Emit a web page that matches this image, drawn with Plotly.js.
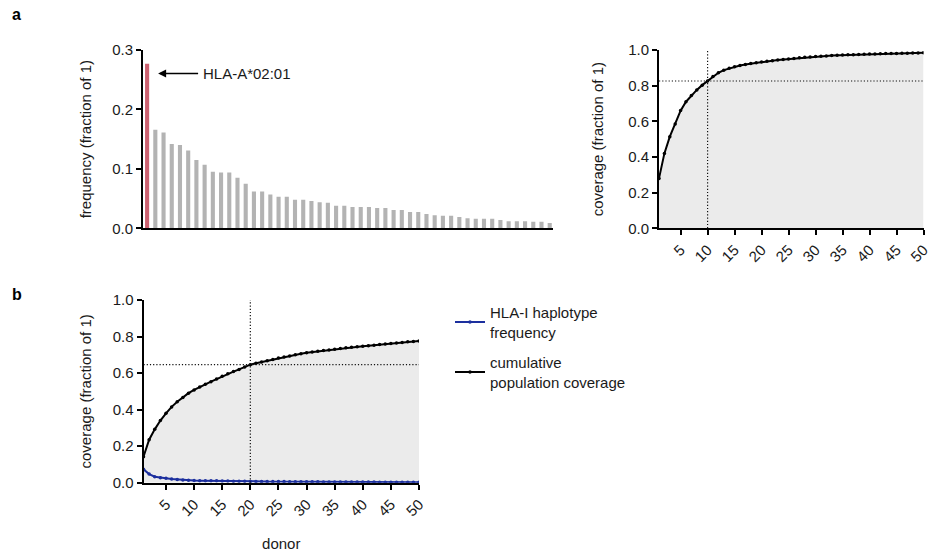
<!DOCTYPE html>
<html>
<head>
<meta charset="utf-8">
<script src="https://cdn.plot.ly/plotly-3.0.1.min.js"></script>
<style>html,body{margin:0;padding:0;background:#fff}#chart{width:930px;height:556px}</style>
</head>
<body>
<div id="chart"></div>
<script>
// ---------- data ----------
const alleleRank = Array.from({length: 50}, (_, i) => i + 1);
const alleleFreq = [0.277, 0.166, 0.161, 0.142, 0.140, 0.131, 0.115, 0.107, 0.095, 0.094,
                    0.094, 0.085, 0.075, 0.062, 0.062, 0.057, 0.053, 0.053, 0.048, 0.048,
                    0.046, 0.044, 0.043, 0.038, 0.038, 0.036, 0.036, 0.036, 0.034, 0.034,
                    0.031, 0.031, 0.0275, 0.0275, 0.024, 0.022, 0.021, 0.021, 0.019, 0.017,
                    0.016, 0.016, 0.016, 0.014, 0.012, 0.012, 0.012, 0.011, 0.011, 0.009];
const highlightAllele = "HLA-A*02:01";

const donorsA = Array.from({length: 50}, (_, i) => i + 1);
const coverageA = [0.280, 0.420, 0.514, 0.585, 0.660, 0.710, 0.745, 0.776, 0.803, 0.826,
                   0.852, 0.872, 0.887, 0.897, 0.906, 0.913, 0.919, 0.924, 0.929, 0.933,
                   0.937, 0.940, 0.944, 0.947, 0.950, 0.953, 0.956, 0.959, 0.961, 0.963,
                   0.965, 0.967, 0.969, 0.970, 0.972, 0.973, 0.974, 0.975, 0.976, 0.977,
                   0.978, 0.979, 0.980, 0.980, 0.981, 0.982, 0.982, 0.983, 0.983, 0.984];
const markDonorA = 10;

const donorsB = Array.from({length: 50}, (_, i) => i + 1);
const coverageB = [0.142, 0.235, 0.292, 0.340, 0.380, 0.415, 0.443, 0.467, 0.490, 0.508,
                   0.524, 0.539, 0.553, 0.567, 0.582, 0.596, 0.608, 0.620, 0.633, 0.646,
                   0.654, 0.661, 0.668, 0.675, 0.682, 0.688, 0.694, 0.700, 0.706, 0.711,
                   0.715, 0.719, 0.723, 0.727, 0.731, 0.735, 0.738, 0.741, 0.744, 0.747,
                   0.750, 0.753, 0.756, 0.759, 0.762, 0.765, 0.768, 0.771, 0.773, 0.776];
const haplotypeFreqB = [0.073, 0.047, 0.033, 0.027, 0.024, 0.020, 0.017, 0.015, 0.013, 0.012,
                        0.011, 0.011, 0.010, 0.010, 0.009, 0.009, 0.008, 0.008, 0.008, 0.007,
                        0.007, 0.007, 0.006, 0.006, 0.006, 0.006, 0.005, 0.005, 0.005, 0.005,
                        0.005, 0.005, 0.004, 0.004, 0.004, 0.004, 0.004, 0.004, 0.004, 0.004,
                        0.004, 0.004, 0.003, 0.003, 0.003, 0.003, 0.003, 0.003, 0.003, 0.003];
const markDonorB = 20;
const donorTicks = [5, 10, 15, 20, 25, 30, 35, 40, 45, 50];

// ---------- layout helpers ----------
const W = 930, H = 556;
const px = v => v / W;
const py = v => 1 - v / H;
const FONT = "Liberation Sans, Arial, Helvetica, sans-serif";
const TXT = "#1a1a1a";
const FILL = "#ebebeb";

const baseAxis = {
  showgrid: false, zeroline: false, showline: true, linecolor: "#000", linewidth: 2,
  ticks: "outside", ticklen: 5, tickwidth: 2, tickcolor: "#000",
  tickfont: {family: FONT, size: 15, color: TXT}, fixedrange: true,
  ticklabeloverflow: "allow"
};

const traces = [
  // panel a, left: bars
  {
    type: "bar", x: alleleRank, y: alleleFreq, xaxis: "x", yaxis: "y", width: 0.5,
    marker: {color: alleleRank.map((r, i) => i === 0 ? "#cc6271" : "#b3b3b3"), line: {width: 0}},
    showlegend: false, hoverinfo: "skip"
  },
  // panel a, right: cumulative coverage
  {
    type: "scatter", mode: "lines+markers", x: donorsA, y: coverageA, xaxis: "x2", yaxis: "y2",
    fill: "tozeroy", fillcolor: FILL, line: {color: "#000", width: 2},
    marker: {color: "#000", size: 3.5}, showlegend: false, hoverinfo: "skip"
  },
  // panel b: fill under cumulative coverage
  {
    type: "scatter", mode: "none", x: donorsB, y: coverageB, xaxis: "x3", yaxis: "y3",
    fill: "tozeroy", fillcolor: FILL, showlegend: false, hoverinfo: "skip"
  },
  {
    type: "scatter", mode: "lines+markers", x: donorsB, y: haplotypeFreqB, xaxis: "x3", yaxis: "y3",
    name: "HLA-I haplotype<br>frequency", legendgroup: "hap",
    line: {color: "#1c2f9e", width: 2}, marker: {color: "#1c2f9e", size: 3.5}, hoverinfo: "skip"
  },
  {
    type: "scatter", mode: "lines+markers", x: donorsB, y: coverageB, xaxis: "x3", yaxis: "y3",
    name: "cumulative<br>population coverage", legendgroup: "cov",
    line: {color: "#000", width: 2}, marker: {color: "#000", size: 3.5}, hoverinfo: "skip"
  }
];

const dotted = {color: "#111", width: 1.2, dash: "1.2px,2px"};
const layout = {
  width: W, height: H, margin: {l: 0, r: 0, t: 0, b: 0},
  paper_bgcolor: "#fff", plot_bgcolor: "rgba(0,0,0,0)",
  font: {family: FONT, size: 15, color: TXT},
  showlegend: true,
  legend: {
    x: px(450), y: py(296), xanchor: "left", yanchor: "top",
    font: {family: FONT, size: 15, color: TXT}, bgcolor: "rgba(0,0,0,0)",
    traceorder: "grouped", tracegroupgap: 8, itemclick: false, itemdoubleclick: false
  },
  xaxis: Object.assign({}, baseAxis, {
    domain: [px(143), px(553)], anchor: "y", range: [0.5, 50.4],
    ticks: "", showticklabels: false
  }),
  yaxis: Object.assign({}, baseAxis, {
    domain: [py(228.3), py(50)], anchor: "x", range: [0, 0.3], dtick: 0.1, tickformat: ".1f",
    title: {text: "frequency (fraction of 1)", font: {family: FONT, size: 15, color: TXT}, standoff: 17}
  }),
  xaxis2: Object.assign({}, baseAxis, {
    domain: [px(659), px(923.5)], anchor: "y2", range: [1, 50],
    tickvals: donorTicks, tickangle: -45
  }),
  yaxis2: Object.assign({}, baseAxis, {
    domain: [py(228.3), py(50)], anchor: "x2", range: [0, 1], dtick: 0.2, tickformat: ".1f",
    title: {text: "coverage (fraction of 1)", font: {family: FONT, size: 15, color: TXT}, standoff: 21}
  }),
  xaxis3: Object.assign({}, baseAxis, {
    domain: [px(143.5), px(419)], anchor: "y3", range: [1, 50],
    tickvals: donorTicks, tickangle: -45,
    title: {text: "donor", font: {family: FONT, size: 15, color: TXT}, standoff: 20}
  }),
  yaxis3: Object.assign({}, baseAxis, {
    domain: [py(482.7), py(300)], anchor: "x3", range: [0, 1], dtick: 0.2, tickformat: ".1f",
    title: {text: "coverage (fraction of 1)", font: {family: FONT, size: 15, color: TXT}, standoff: 17}
  }),
  shapes: [
    {type: "line", xref: "x2", yref: "y2", x0: markDonorA, x1: markDonorA, y0: 0, y1: 1, line: dotted, layer: "above"},
    {type: "line", xref: "x2", yref: "y2", x0: 1, x1: 50, y0: coverageA[markDonorA - 1], y1: coverageA[markDonorA - 1], line: dotted, layer: "above"},
    {type: "line", xref: "x3", yref: "y3", x0: markDonorB, x1: markDonorB, y0: 0, y1: 1, line: dotted, layer: "above"},
    {type: "line", xref: "x3", yref: "y3", x0: 1, x1: 50, y0: coverageB[markDonorB - 1], y1: coverageB[markDonorB - 1], line: dotted, layer: "above"}
  ],
  annotations: [
    {text: "<b>a</b>", xref: "paper", yref: "paper", x: px(10), y: py(4), xanchor: "left", yanchor: "top",
     showarrow: false, font: {family: FONT, size: 16, color: "#000"}},
    {text: "<b>b</b>", xref: "paper", yref: "paper", x: px(10), y: py(284), xanchor: "left", yanchor: "top",
     showarrow: false, font: {family: FONT, size: 16, color: "#000"}},
    {text: highlightAllele, xref: "x", yref: "y", x: alleleRank[0], y: alleleFreq[0] * 0.94, xshift: 11,
     showarrow: true, axref: "pixel", ayref: "pixel", ax: 40, ay: 0, xanchor: "left",
     arrowhead: 2, arrowsize: 1, arrowwidth: 1.6, arrowcolor: "#000", borderpad: 4,
     font: {family: FONT, size: 15, color: TXT}}
  ]
};

Plotly.newPlot("chart", traces, layout, {displayModeBar: false, staticPlot: true});
</script>
</body>
</html>
